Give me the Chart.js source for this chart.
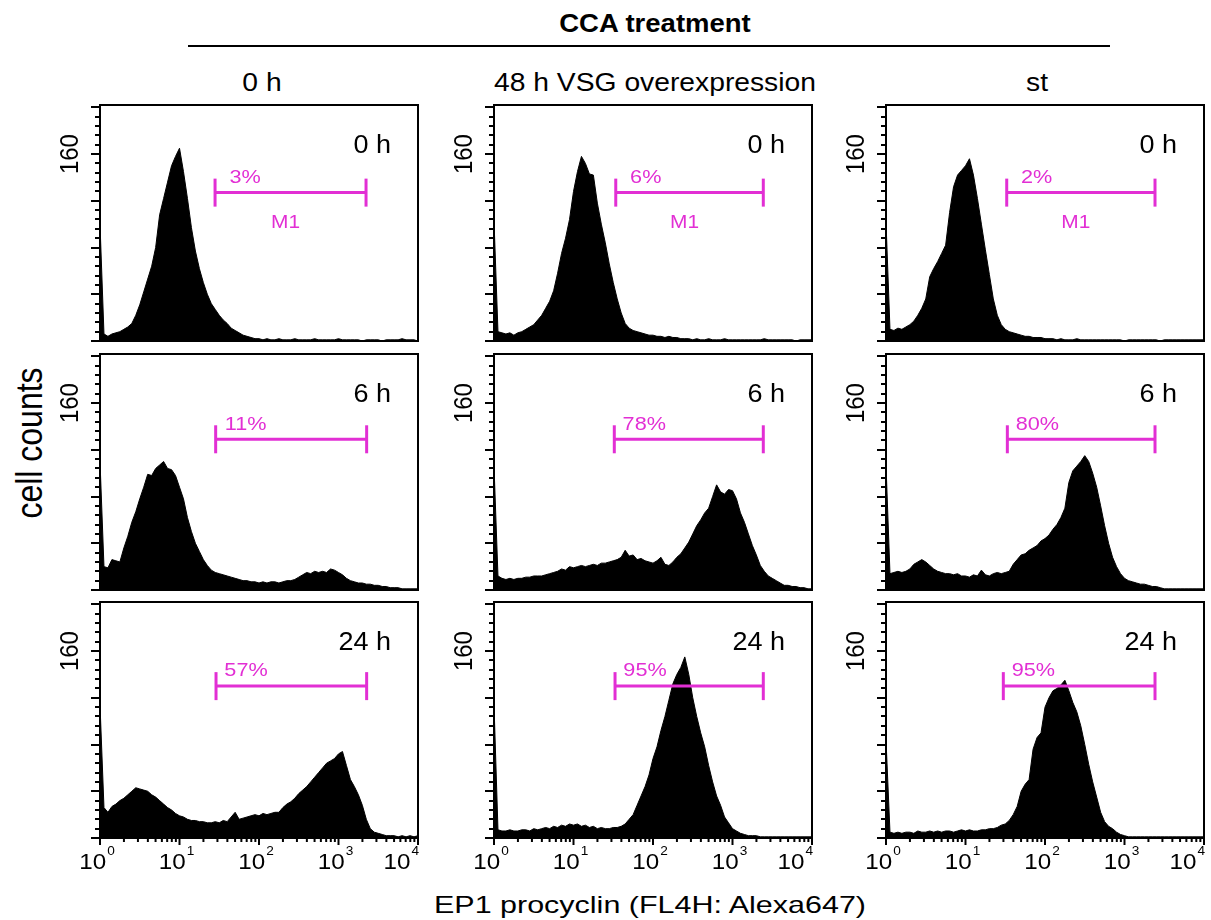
<!DOCTYPE html>
<html>
<head>
<meta charset="utf-8">
<script src="https://cdn.jsdelivr.net/npm/chart.js@4.4.0/dist/chart.umd.min.js"></script>
<style>
  body { margin: 0; background: #fff; overflow: hidden; }
  #fig { position: relative; width: 1211px; height: 920px; overflow: hidden; font-family: "Liberation Sans", Arial, Helvetica, sans-serif; color: #000; }
  #fig canvas { position: absolute; }
  .txt { position: absolute; white-space: nowrap; line-height: 1; }
</style>
</head>
<body>
<div id="fig"></div>
<script>
// histogram counts, 20 channels per decade from 10^0 to 10^4 (81 channels)
const ctrl0h = [100,6,4,6,7,8,10,12,15,22, 31,42,53,64,80,108,122,136,150,158,
  165,145,122,97,77,62,50,40,32,27, 22,18,15,11,9,7,5,4,3,2,
  2,1,2,1,1,2,1,1,1,2, 1,1,1,1,2,1,1,1,1,1, 2,1,1,1,1,1,0,1,1,1, 1,0,1,1,1,1,2,1,1,1, 0];
const ctrl6h = [110,20,19,26,25,24,36,46,58,67, 78,88,99,98,104,107,110,104,103,98,
  88,78,62,50,40,33,26,21,17,15, 14,13,12,11,10,9,8,8,7,7,
  6,7,6,7,7,6,7,8,8,9, 11,13,15,14,16,15,16,15,18,17, 15,13,10,8,7,6,6,5,5,4, 4,3,3,2,2,2,1,1,1,1, 1];
const ctrl24h = [114,26,22,27,29,32,34,37,40,43, 42,41,40,37,35,32,29,26,24,21,
  19,18,16,15,15,14,14,13,13,14, 13,15,14,18,22,16,17,18,19,20,
  19,21,20,21,22,22,26,29,31,34, 38,41,44,48,52,56,60,64,66,68, 72,74,62,50,44,37,28,16,8,5, 4,3,2,2,2,1,2,1,2,1, 2];
const vsg0h = [103,8,7,6,7,5,7,8,10,12, 14,18,22,28,34,43,58,75,88,104,
  128,145,158,152,143,142,118,100,84,66, 50,36,24,15,11,9,8,7,6,5,
  5,4,4,3,4,3,3,2,2,2, 1,2,1,1,2,1,1,1,2,1, 1,1,1,1,1,1,1,1,2,1, 1,1,1,1,1,1,0,1,1,1, 1];
const vsg6h = [106,12,10,9,10,9,10,10,11,11, 12,12,12,13,14,15,16,18,17,20,
  19,20,21,20,21,22,21,23,23,24, 25,26,28,34,29,30,26,27,25,24,
  23,25,28,22,21,24,28,31,36,41, 48,55,60,66,70,80,90,84,82,86, 85,78,66,58,48,38,30,21,16,12, 10,8,6,4,4,3,3,2,2,1, 1];
const vsg24h = [114,7,6,6,7,6,6,7,7,6, 8,7,8,9,8,10,9,11,10,12,
  11,12,10,11,9,10,8,9,8,8, 9,9,10,12,16,20,28,36,44,54,
  68,78,92,104,118,132,140,146,155,140, 120,104,90,78,62,48,36,28,18,13, 8,6,4,3,2,2,2,1,1,1, 1,1,1,1,1,1,1,1,1,1, 1];
const st0h = [102,10,9,11,10,12,14,17,22,28, 36,55,62,68,75,82,110,132,142,146,
  150,156,142,122,100,78,57,36,22,14, 10,8,7,6,5,4,4,3,3,3,
  2,2,2,1,2,1,1,1,2,1, 1,1,1,1,1,1,1,1,1,1, 0,1,1,1,1,1,1,1,1,0, 1,1,1,1,1,1,1,1,1,1, 1];
const st6h = [107,14,15,16,15,16,18,22,24,26, 24,21,18,16,15,14,14,13,14,12,
  12,11,13,12,17,13,12,14,15,14, 15,16,22,26,30,31,34,36,38,42,
  44,47,52,56,62,70,92,102,106,110, 115,110,100,88,72,55,40,28,20,14, 10,8,7,6,5,5,4,3,3,2, 1,1,1,1,1,1,1,1,1,1, 1];
const st24h = [84,5,4,5,4,5,5,4,6,5, 5,6,5,6,5,6,6,5,6,7,
  6,7,6,6,7,7,8,8,9,11, 12,15,20,27,40,46,50,76,86,90,
  112,120,126,128,131,135,126,116,108,96, 80,63,48,35,22,14,10,8,5,3, 2,1,1,1,1,1,1,1,1,1, 1,1,1,1,1,1,1,1,1,1, 1];

const columnTitles = ["0 h", "48 h VSG overexpression", "st"];
const rowTimes = ["0 h", "6 h", "24 h"];
const gatePercents = [["3%", "6%", "2%"], ["11%", "78%", "80%"], ["57%", "95%", "95%"]];
const gateLow = [[28, 34, 33], [28.5, 32.6, 33.6], [28.8, 33.3, 29.9]];
const gateHigh = [[2220, 2440, 2420], [2260, 2440, 2420], [2260, 2440, 2420]];
const gateCount = [127, 129, 130];
const gateName = "M1";
const xDecades = [1, 10, 100, 1000, 10000];
const xExponents = ["0", "1", "2", "3", "4"];
const minorMultiples = [2, 3, 4, 5, 6, 7, 8, 9];
const yLabelValue = 160;

const panels = [
  [ctrl0h, vsg0h, st0h],
  [ctrl6h, vsg6h, st6h],
  [ctrl24h, vsg24h, st24h]
];

const CHANNELS_PER_DECADE = 20;
const channelValues = ctrl0h.map((_, i) => Math.pow(10, i / CHANNELS_PER_DECADE));

// layout
const FONT = '"Liberation Sans", Arial, Helvetica, sans-serif';
const MAGENTA = "#e22fd4";
const Y_MAX = 202, Y_MAJOR = 40, Y_MINOR = 8;
const boxLefts = [100, 494, 886];
const boxTops = [105, 354, 602];
const BOX_W = 318, BOX_H = 236;
const PAD_L = 50, PAD_T = 4;

const fig = document.getElementById("fig");

// the original figure is a bit stretched sideways, so is its text (sx)
function addText(text, x, y, size, sx, opts = {}) {
  const d = document.createElement("div");
  d.className = "txt";
  d.textContent = text;
  d.style.left = x + "px";
  d.style.top = y + "px";
  d.style.fontSize = size + "px";
  if (opts.bold) d.style.fontWeight = "bold";
  d.style.transform = opts.rotate
    ? "translate(-50%,-50%) rotate(-90deg) scaleY(" + sx + ")"
    : "translate(-50%,-50%) scaleX(" + sx + ")";
  fig.appendChild(d);
}

function stretchedText(ctx, text, x, y, size, sx, color, align, rotate) {
  ctx.save();
  ctx.translate(x, y);
  if (rotate) {
    ctx.rotate(-Math.PI / 2);
    ctx.scale(1, sx);
  } else {
    ctx.scale(sx, 1);
  }
  ctx.font = size + "px " + FONT;
  ctx.fillStyle = color;
  ctx.textAlign = align;
  ctx.textBaseline = "middle";
  ctx.fillText(text, 0, 0);
  ctx.restore();
}

function seg(ctx, x0, y0, x1, y1) {
  ctx.beginPath();
  ctx.moveTo(x0, y0);
  ctx.lineTo(x1, y1);
  ctx.stroke();
}

const flowFrame = {
  id: "flowFrame",
  afterDatasetsDraw(chart, args, opts) {
    const { ctx, chartArea: a } = chart;
    const x = chart.scales.x, y = chart.scales.y;
    const row = opts.row, col = opts.col;
    ctx.save();
    ctx.strokeStyle = "#000";
    ctx.lineWidth = 2;
    ctx.strokeRect(a.left, a.top, a.right - a.left, a.bottom - a.top);

    // y ticks, pointing out to the left
    for (let v = 0; v <= Y_MAX; v += Y_MINOR) {
      const py = Math.round(y.getPixelForValue(v));
      const len = v % Y_MAJOR === 0 ? 9 : 5;
      seg(ctx, a.left - len, py, a.left, py);
    }
    stretchedText(ctx, String(yLabelValue), a.left - 29, y.getPixelForValue(yLabelValue), 24, 1.05, "#000", "center", true);

    // x ticks + labels only under the bottom row
    if (row === 2) {
      xDecades.forEach((d, k) => {
        const px = x.getPixelForValue(d);
        seg(ctx, px, a.bottom, px, a.bottom + 7);
        if (d < 10000) {
          minorMultiples.forEach(m => {
            const pm = x.getPixelForValue(d * m);
            seg(ctx, pm, a.bottom, pm, a.bottom + 4);
          });
        }
        ctx.font = "22px " + FONT;
        const wBase = ctx.measureText("10").width * 1.1;
        ctx.font = "13px " + FONT;
        const wSup = ctx.measureText(xExponents[k]).width * 1.05;
        const total = wBase + 1 + wSup;
        // last label is kept inside the frame
        const start = k === xDecades.length - 1 ? px - total + 1 : px - 3 - total / 2;
        stretchedText(ctx, "10", start, a.bottom + 25, 22, 1.1, "#000", "left", false);
        stretchedText(ctx, xExponents[k], start + wBase + 1, a.bottom + 13, 13, 1.05, "#000", "left", false);
      });
    }

    // time label
    stretchedText(ctx, rowTimes[row], a.right - 27, a.top + 41, 25, 1.08, "#000", "right", false);

    // gate marker
    const gy = y.getPixelForValue(gateCount[row]);
    const g0 = x.getPixelForValue(gateLow[row][col]);
    const g1 = x.getPixelForValue(gateHigh[row][col]);
    ctx.strokeStyle = MAGENTA;
    ctx.lineWidth = 3;
    seg(ctx, g0, gy, g1, gy);
    seg(ctx, g0, gy - 14, g0, gy + 14);
    seg(ctx, g1, gy - 14, g1, gy + 14);
    stretchedText(ctx, gatePercents[row][col], g0 + 30, gy - 15, 19, 1.14, MAGENTA, "center", false);
    if (row === 0) {
      stretchedText(ctx, gateName, (g0 + g1) / 2 - 5, gy + 30, 19, 1.1, MAGENTA, "center", false);
    }
    ctx.restore();
  }
};

function makePanel(row, col) {
  const padB = row === 2 ? 44 : 4;
  const padR = row === 2 ? 14 : 7;
  const canvas = document.createElement("canvas");
  canvas.width = PAD_L + BOX_W + padR;
  canvas.height = PAD_T + BOX_H + padB;
  canvas.style.left = (boxLefts[col] - PAD_L) + "px";
  canvas.style.top = (boxTops[row] - PAD_T) + "px";
  fig.appendChild(canvas);

  const counts = panels[row][col];
  new Chart(canvas.getContext("2d"), {
    type: "line",
    data: {
      datasets: [{
        data: counts.map((c, i) => ({ x: channelValues[i], y: c })),
        fill: "origin",
        backgroundColor: "#000",
        borderColor: "#000",
        borderWidth: 1,
        pointRadius: 0,
        tension: 0
      }]
    },
    options: {
      responsive: false,
      animation: false,
      layout: { padding: { left: PAD_L, right: padR, top: PAD_T, bottom: padB } },
      scales: {
        x: { type: "logarithmic", min: 1, max: 10000, display: false },
        y: { type: "linear", min: 0, max: Y_MAX, display: false }
      },
      plugins: {
        legend: { display: false },
        tooltip: { enabled: false },
        flowFrame: { row, col }
      }
    },
    plugins: [flowFrame]
  });
}

for (let r = 0; r < 3; r++) {
  for (let c = 0; c < 3; c++) makePanel(r, c);
}

// headings and axis titles
addText("CCA treatment", 655, 23, 25, 1.1, { bold: true });
const rule = document.createElement("div");
rule.style.cssText = "position:absolute;left:188px;top:45px;width:922px;height:2px;background:#000;";
fig.appendChild(rule);
const headerX = [262, 655, 1037];
columnTitles.forEach((t, i) => addText(t, headerX[i], 82, 25, 1.13));
addText("cell counts", 29, 443, 32, 1.15, { rotate: true });
addText("EP1 procyclin (FL4H: Alexa647)", 650, 905, 24, 1.27);
</script>
</body>
</html>
